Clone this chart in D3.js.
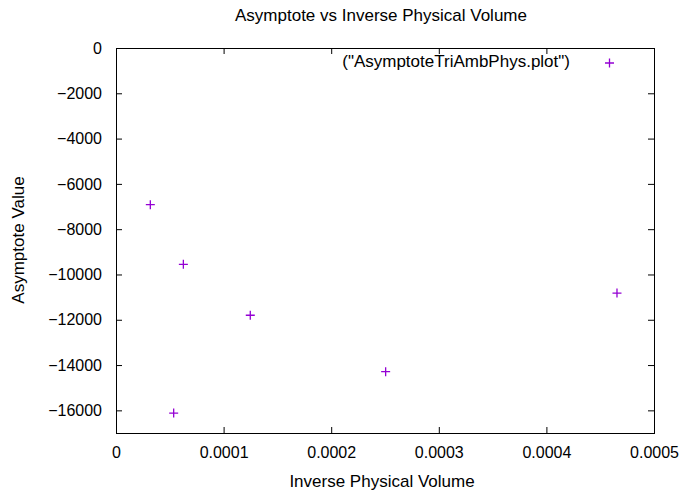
<!DOCTYPE html>
<html>
<head>
<meta charset="utf-8">
<script src="https://cdn.jsdelivr.net/npm/d3@7"></script>
<style>
  html, body { margin: 0; padding: 0; background: #fff; }
  svg { display: block; font-family: "Liberation Sans", Arial, sans-serif; }
</style>
</head>
<body>
<svg id="chart" width="682" height="491"></svg>
<script>
// Inverse physical volume (x) and asymptote value (y) for each run
const inverseVolume = [0.0000319, 0.0000626, 0.0001248, 0.0000536, 0.0002506, 0.0004656];
const asymptote     = [-6920, -9550, -11800, -16120, -14290, -10820];

const xTicks = [0, 0.0001, 0.0002, 0.0003, 0.0004, 0.0005];
const xTickLabels = ["0", "0.0001", "0.0002", "0.0003", "0.0004", "0.0005"];
const yTicks = [0, -2000, -4000, -6000, -8000, -10000, -12000, -14000, -16000];

const titleText = "Asymptote vs Inverse Physical Volume";
const xLabelText = "Inverse Physical Volume";
const yLabelText = "Asymptote Value";
const legendText = "(\"AsymptoteTriAmbPhys.plot\")";

const W = 682, H = 491;
const m = { left: 116, right: 28, top: 48, bottom: 58 };
const svg = d3.select("#chart");
const color = "#9400d3";
const tickFont = 16;
const labelFont = 17;

const x = d3.scaleLinear().domain([0, 0.0005]).range([m.left, W - m.right]);
const y = d3.scaleLinear().domain([-17000, 0]).range([H - m.bottom, m.top]);

const tickLen = 6;
const axisColor = "#000";

// bottom axis with inward ticks
const gx = svg.append("g").attr("transform", `translate(0,${H - m.bottom})`)
  .call(d3.axisBottom(x).tickValues(xTicks).tickFormat((d, i) => xTickLabels[i])
        .tickSizeInner(-tickLen).tickSizeOuter(0).tickPadding(14));
// top mirror ticks
const gxt = svg.append("g").attr("transform", `translate(0,${m.top})`)
  .call(d3.axisTop(x).tickValues(xTicks).tickFormat("").tickSizeInner(-tickLen).tickSizeOuter(0));
// left axis with inward ticks
const gy = svg.append("g").attr("transform", `translate(${m.left},0)`)
  .call(d3.axisLeft(y).tickValues(yTicks).tickFormat(d3.format("d"))
        .tickSizeInner(-tickLen).tickSizeOuter(0).tickPadding(14));
// right mirror ticks
const gyr = svg.append("g").attr("transform", `translate(${W - m.right},0)`)
  .call(d3.axisRight(y).tickValues(yTicks).tickFormat("").tickSizeInner(-tickLen).tickSizeOuter(0));

[gx, gxt, gy, gyr].forEach(g => {
  g.select(".domain").remove();
  g.selectAll(".tick line").attr("stroke", axisColor).attr("stroke-width", 1);
  g.selectAll(".tick text").attr("fill", "#000").style("font-size", tickFont + "px")
    .style("font-family", "'Liberation Sans', Arial, sans-serif");
});
gx.selectAll(".tick text").attr("dy", "0.71em");

// plot frame
svg.append("rect")
  .attr("x", m.left + 0.5).attr("y", m.top + 0.5)
  .attr("width", W - m.left - m.right).attr("height", H - m.top - m.bottom)
  .attr("fill", "none").attr("stroke", axisColor).attr("stroke-width", 1);

// plus-shaped point markers
const s = 4.5;
function plus(g, cx, cy) {
  g.append("path")
    .attr("d", `M${cx - s},${cy}H${cx + s}M${cx},${cy - s}V${cy + s}`)
    .attr("stroke", color).attr("stroke-width", 1.3).attr("fill", "none");
}
const pts = svg.append("g");
inverseVolume.forEach((v, i) => plus(pts, x(v), y(asymptote[i])));

// legend
svg.append("text").attr("x", 570).attr("y", 67).attr("text-anchor", "end")
  .style("font-size", labelFont + "px").text(legendText);
plus(svg, 609.5, 63);

// title and axis labels
svg.append("text").attr("x", 381).attr("y", 21).attr("text-anchor", "middle")
  .style("font-size", labelFont + "px").text(titleText);
svg.append("text").attr("x", 382).attr("y", 487).attr("text-anchor", "middle")
  .style("font-size", labelFont + "px").text(xLabelText);
svg.append("text").attr("transform", "translate(24,240) rotate(-90)")
  .attr("text-anchor", "middle").style("font-size", labelFont + "px").text(yLabelText);
</script>
</body>
</html>
